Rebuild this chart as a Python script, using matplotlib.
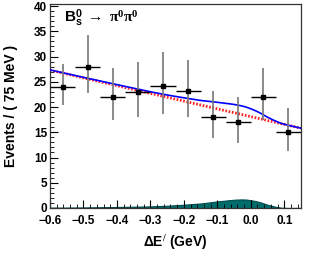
import numpy as np
import matplotlib
matplotlib.use('Agg')
import matplotlib.pyplot as plt
from matplotlib.ticker import MultipleLocator

plt.rcParams['font.family'] = ['Liberation Sans', 'DejaVu Sans']
plt.rcParams['font.weight'] = 'bold'
plt.rcParams['mathtext.fontset'] = 'custom'
plt.rcParams['mathtext.rm'] = 'Liberation Serif'
plt.rcParams['mathtext.it'] = 'Liberation Serif:italic'
plt.rcParams['mathtext.bf'] = 'Liberation Sans:bold'

# data points (75 MeV bins)
x_pts = [-0.5625, -0.4875, -0.4125, -0.3375, -0.2625, -0.1875, -0.1125, -0.0375, 0.0375, 0.1125]
y_pts = [24.0, 28.0, 22.0, 23.0, 24.1, 23.2, 18.0, 17.0, 21.9, 15.0]
err_hi = [4.6, 6.3, 5.7, 5.9, 6.7, 6.2, 5.2, 5.0, 5.8, 4.9]
err_lo = [3.7, 5.2, 4.6, 5.0, 5.5, 5.2, 4.2, 4.1, 4.5, 3.8]

# fit components
curve_x = [-0.6, -0.5, -0.4, -0.3, -0.25, -0.2, -0.15, -0.1, -0.06, -0.045, -0.03,
           -0.015, 0.0, 0.015, 0.03, 0.05, 0.07, 0.09, 0.11, 0.15]
bkg_y = [27.30, 25.77, 24.23, 22.70, 21.93, 21.17, 20.40, 19.63, 19.02, 18.79, 18.56,
         18.33, 18.10, 17.87, 17.64, 17.33, 17.03, 16.72, 16.41, 15.80]
sig_y = [0.05, 0.10, 0.20, 0.32, 0.45, 0.65, 0.90, 1.30, 1.58, 1.66, 1.70,
         1.68, 1.55, 1.36, 1.10, 0.65, 0.30, 0.05, 0.0, 0.0]

tot_y = np.array(bkg_y) + np.array(sig_y)

fig = plt.figure(figsize=(3.36, 2.56), dpi=100)
ax = fig.add_axes([50/336, 48/256, 251/336, 204/256])

ax.fill_between(curve_x, 0, sig_y, color='#006b6b', lw=0.8, edgecolor='#004c4c', zorder=1)
ax.plot(curve_x, bkg_y, color='#ff2020', ls=(0, (0.6, 0.6)), lw=2, zorder=2)
ax.plot(curve_x, tot_y, color='blue', lw=1.2, zorder=3)

ax.errorbar(x_pts, y_pts, yerr=[err_lo, err_hi], fmt='none', ecolor='#777777', elinewidth=1.2, zorder=4)
ax.errorbar(x_pts, y_pts, xerr=0.0375, fmt='s', color='black', ms=3, elinewidth=1, zorder=5)

ax.set_xlim(-0.6, 0.15)
ax.set_ylim(0, 40.4)
ax.xaxis.set_major_locator(MultipleLocator(0.1))
ax.xaxis.set_minor_locator(MultipleLocator(0.02))
ax.yaxis.set_major_locator(MultipleLocator(5))
ax.yaxis.set_minor_locator(MultipleLocator(1))
ax.tick_params(which='both', direction='in', top=False, right=False, labelsize=8.5, colors='black')
ax.tick_params(axis='x', which='major', length=6, pad=5)
ax.tick_params(axis='x', which='minor', length=3)
ax.tick_params(axis='y', which='major', length=6, pad=2)
ax.tick_params(axis='y', which='minor', length=3)
for lab in ax.get_xticklabels() + ax.get_yticklabels():
    lab.set_fontweight('bold')
for s in ax.spines.values():
    s.set_color('#333333')
    s.set_linewidth(0.9)

ax.set_xlabel('ΔE$^{/}$ (GeV)', fontsize=10, fontweight='bold')
ax.set_ylabel('Events / ( 75 MeV )', fontsize=10, fontweight='bold')
ax.xaxis.set_label_coords(0.5, -0.123)
ax.yaxis.set_label_coords(-0.127, 0.5)

ax.text(0.056, 0.98, r'$\mathbf{B}_{\mathbf{s}}^{\mathbf{0}}\ \rightarrow\ \mathrm{\pi}^{0}\mathrm{\pi}^{0}$',
        transform=ax.transAxes, ha='left', va='top', fontsize=11)

fig.savefig('out.png', dpi=100)
